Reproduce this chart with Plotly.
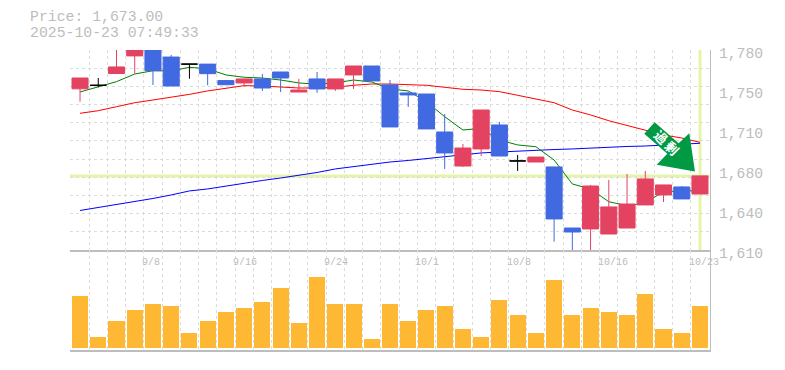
import plotly.graph_objects as go

dates = ["9/2","9/3","9/4","9/5","9/8","9/9","9/10","9/11","9/12","9/16","9/17","9/18","9/19","9/22","9/24",
         "9/25","9/26","9/29","9/30","10/1","10/2","10/3","10/6","10/7","10/8","10/9","10/10","10/14","10/15",
         "10/16","10/17","10/20","10/21","10/22","10/23"]
labelled_dates = ["9/8","9/16","9/24","10/1","10/8","10/16","10/23"]

opens  = [1747,1750,1760,1775,1784,1774,1768,1768,1754,1752,1755.4,1761.3,1744.3,1755.4,1746.9,1758.8,1766.4,1750.3,1743.5,1742.6,
          1710.3,1681.4,1695.9,1716.3,1685.7,1684.8,1680.6,1628.7,1627.9,1623.6,1628.7,1648.3,1656.8,1663.6,1657.6]
highs  = [1756.2,1756.2,1785,1785,1785,1775.8,1768,1768,1754.5,1755.4,1759.6,1761.3,1755.4,1761.3,1755.4,1766.4,1766.4,1754.5,1744.3,1742.6,
          1725.6,1700.1,1729,1718.8,1690.8,1689,1680.6,1628.7,1665.3,1669.5,1674.6,1677.2,1665.3,1664.4,1673]
lows   = [1736.1,1748.3,1759.6,1760,1750.3,1749.4,1755.6,1750,1750.5,1748.8,1745.2,1744.3,1744.3,1743.5,1745.2,1746.9,1753.7,1714.6,1731.6,1712.9,
          1678.9,1680.6,1689.9,1689.9,1677.2,1684.8,1617.1,1600,1600,1623.6,1628.7,1648.3,1650.8,1653.4,1657.6]
closes = [1756.2,1750,1765.6,1783,1762.4,1749.4,1768,1759.9,1750.5,1755.4,1747.7,1756.2,1746,1746.9,1755.4,1766.4,1753.7,1714.6,1741.8,1712.9,
          1692.5,1696.7,1729,1689.9,1685.7,1689,1636.4,1625.3,1664.4,1646.6,1649.1,1670.4,1665.3,1653.4,1673]

ma_short = [1744.3,1748.6,1753.1,1759.6,1762.4,1762.2,1765.3,1764,1758.8,1756.8,1756.2,1754.5,1752,1750.9,1752,1754.5,1752.8,1746.9,1745.2,1736.1,
            1723.3,1712,1713.4,1703.5,1699.3,1697.8,1686.5,1666.1,1661.9,1651,1647.7,1650,1659.6,1659.6,1661]
ma_mid   = [1726.2,1728.4,1731.8,1735.2,1737.5,1739.8,1742.3,1745.2,1747.4,1749.7,1749.4,1748.3,1747.7,1747.7,1748.3,1750,1751.1,1751.1,1750.8,1750,
            1748.3,1746.6,1746,1744.6,1741.5,1738.1,1735.2,1729,1724.8,1719.9,1716,1711.7,1707.8,1705.2,1701.5]
ma_long  = [1643.6,1646.1,1648.3,1650.8,1653.8,1656.8,1660.2,1661.9,1664.4,1667,1669.1,1671.2,1673.3,1675.9,1678.9,1681,1683.1,1684.8,1686.1,1687.8,
            1689.6,1691.2,1692.5,1693.3,1694.2,1694.6,1695.4,1695.9,1696.7,1697.1,1698,1698.4,1699.3,1699.7,1700.7]
volumes  = [52,11,27,38,44,42,15,27,36,40,46,60,25,71,44,44,9,44,27,38,42,19,11,48,33,15,68,33,40,36,33,54,19,15,42]

price_ticks = [1780,1746,1712,1678,1644,1610]
price_tick_text = ["1,780","1,750","1,710","1,680","1,640","1,610"]
last_price = 1673.00
stamp = "2025-10-23 07:49:33"
badge_text = "過\u2009剰"

TEXT = "#bdbdbd"
GRID = "#dcdcdc"
AXIS = "#bdbdbd"
PALE = "#e4f5a6"
UP = "#e34361"
DOWN = "#4169e1"
MONO = "Liberation Mono, DejaVu Sans Mono, monospace"

idx = list(range(len(dates)))
last = idx[-1]
is_doji = [o == c for o, c in zip(opens, closes)]
pick = lambda vals, flag: [v if f == flag else None for v, f in zip(vals, is_doji)]
label_idx = [dates.index(d) for d in labelled_dates]

fig = go.Figure()
for vals, col in ((ma_long, "#0000ff"), (ma_mid, "#ff0000"), (ma_short, "#008000")):
    fig.add_trace(go.Scatter(x=idx, y=vals, mode="lines", line=dict(color=col, width=1), showlegend=False, hoverinfo="skip"))

fig.add_trace(go.Candlestick(
    x=idx, open=pick(opens, False), high=pick(highs, False), low=pick(lows, False), close=pick(closes, False),
    increasing=dict(line=dict(color=UP, width=1), fillcolor=UP),
    decreasing=dict(line=dict(color=DOWN, width=1), fillcolor=DOWN),
    whiskerwidth=0, showlegend=False, yaxis="y3"))
fig.add_trace(go.Candlestick(
    x=idx, open=pick(opens, True), high=pick(highs, True), low=pick(lows, True), close=pick(closes, True),
    increasing=dict(line=dict(color="#000000", width=1), fillcolor="#000000"),
    decreasing=dict(line=dict(color="#000000", width=1), fillcolor="#000000"),
    whiskerwidth=0, showlegend=False, yaxis="y3"))

fig.add_trace(go.Bar(x=idx, y=volumes, width=0.88, marker=dict(color="#ffb833", line=dict(width=0)),
                     xaxis="x2", yaxis="y2", showlegend=False))

x_range = [-0.55, last + 0.55]
boundaries = [i - 0.5 for i in idx] + [last + 0.5]
x_minor = dict(tickmode="array", tickvals=boundaries, showgrid=True, gridcolor=GRID, gridwidth=1, griddash="3px,3px", ticks="")
h_grid = [1780 - i * 170 / 11 for i in range(11)]

fig.update_layout(
    width=785, height=370, margin=dict(l=70, r=75, t=50, b=20),
    paper_bgcolor="white", plot_bgcolor="white", boxmode="overlay", boxgap=0.12, boxgroupgap=0,
    bargap=0, barmode="overlay", hovermode=False,
    font=dict(family=MONO, color=TEXT),
    xaxis=dict(automargin=False, domain=[0, 1], range=x_range, anchor="y", showgrid=False, zeroline=False, showline=True, linecolor=AXIS, linewidth=1.5,
               showticklabels=False, ticks="", tickmode="array", tickvals=label_idx, minor=x_minor, rangeslider=dict(visible=False)),
    yaxis=dict(automargin=False, domain=[1/3, 1], range=[1610, 1780], side="right", showgrid=False, zeroline=False, showline=True, linecolor=AXIS, linewidth=1,
               anchor="x", tickmode="array", tickvals=price_ticks, ticktext=price_tick_text, ticks="", ticklabelshift=3, ticklabelstandoff=5,
               tickfont=dict(family=MONO, size=14.7, color=TEXT),
               minor=dict(tickmode="array", tickvals=h_grid, showgrid=True, gridcolor=GRID, gridwidth=1, griddash="3px,3px", ticks="")),
    yaxis3=dict(automargin=False, overlaying="y", anchor="x", side="right", range=[1610, 1780], visible=False, showgrid=False, zeroline=False),
    xaxis2=dict(automargin=False, domain=[0, 1], range=x_range, anchor="y2", showgrid=False, zeroline=False, showline=True, linecolor=AXIS, linewidth=1.5,
                showticklabels=False, ticks="", tickmode="array", tickvals=label_idx, minor=x_minor),
    yaxis2=dict(automargin=False, domain=[0, 1/3], range=[-2, 98], side="right", anchor="x2", showgrid=False, zeroline=False, showline=True,
                linecolor=AXIS, linewidth=1, showticklabels=False, ticks=""),
)

fig.add_shape(type="line", xref="paper", yref="y", x0=0, x1=1, y0=last_price, y1=last_price, line=dict(color=PALE, width=3), layer="between")
fig.add_shape(type="line", xref="x", yref="paper", x0=last, x1=last, y0=1/3, y1=1, line=dict(color=PALE, width=3), layer="between")

# Signal badge: offsets in pixels from the last candle's close
badge = [(-55.7, 42.1), (-45.3, 53.7), (-21.3, 32.7), (-10.7, 42.7), (-5, 4.4), (-43.3, 11.1), (-32.7, 22.1)]
path = "M" + " L".join(f"{a},{b}" for a, b in badge) + " Z"
fig.add_shape(type="path", xsizemode="pixel", ysizemode="pixel", xanchor=last, yanchor=last_price, xref="x", yref="y",
              path=path, fillcolor="#009944", line=dict(width=0), layer="above")
fig.add_annotation(x=last, y=last_price, xref="x", yref="y", xshift=-33.5, yshift=32.9, text=f"<b>{badge_text}</b>", showarrow=False,
                   textangle=45, font=dict(family="Noto Sans CJK JP", size=13, color="white"))

for lab in labelled_dates:
    fig.add_annotation(x=dates.index(lab), y=1/3, xref="x", yref="paper", text=lab, showarrow=False, xanchor="left", yanchor="top",
                       xshift=-13, yshift=-5, font=dict(family=MONO, size=10, color=TEXT))

for text, ypos in ((f"Price: {last_price:,.2f}", 1.11), (stamp, 1.0567)):
    fig.add_annotation(x=-42/640, y=ypos, xref="paper", yref="paper", text=text, showarrow=False, xanchor="left", yanchor="middle",
                       font=dict(family=MONO, size=14.8, color=TEXT))

fig.write_html("out.html", post_script="document.body.style.margin='0';", config=dict(displayModeBar=False))
